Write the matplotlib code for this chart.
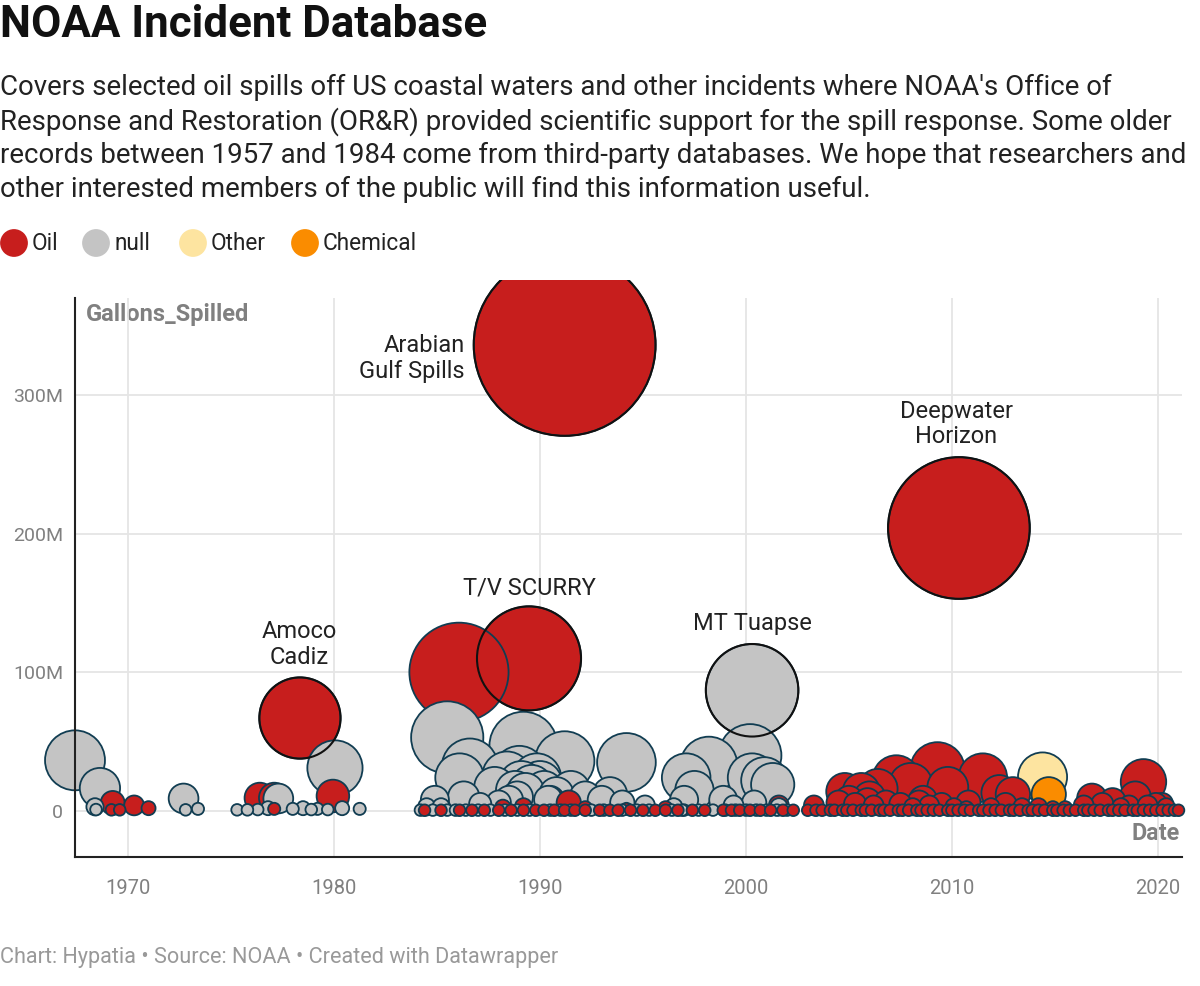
import numpy as np
import pandas as pd
import matplotlib
matplotlib.use("Agg")
import matplotlib.pyplot as plt
from matplotlib.patches import Rectangle

plt.rcParams["font.family"] = ["Roboto", "DejaVu Sans"]

# --- data (millions of gallons) ---
oil_year = [1969.26, 1969.2, 1969.6, 1970.3, 1971.0, 1976.4, 1977.1, 1977.1, 1978.35, 1979.95,
            1986.07, 1989.47, 1991.2, 2010.34,
            1988.2, 1989.2, 1990.5, 1991.4, 1992.2, 1996.1, 2001.6, 1994.2,
            2004.8, 2005.6, 2006.0, 2006.4, 2007.3, 2008.0, 2009.3, 2009.8, 2011.5, 2012.3,
            2012.96, 2016.8, 2017.8, 2018.9, 2019.3, 2020.2, 2008.6, 2010.8,
            2003.3, 2004.5, 2005.0, 2005.3, 2005.9, 2006.2, 2006.8, 2007.5, 2008.1, 2008.4,
            2008.9, 2009.5, 2010.1, 2010.7, 2011.9, 2012.6, 2013.4, 2014.2, 2014.9, 2015.5,
            2016.4, 2017.3, 2018.2, 2018.6, 2019.5, 2019.9, 2020.4]
oil_gal = [5.8, 0.8, 0.8, 4.0, 2.0, 9.4, 9.4, 1.5, 67.0, 10.8,
           100.0, 110.0, 336.0, 204.0,
           2.5, 3.0, 8.0, 6.0, 2.0, 2.0, 4.0, 1.5,
           14.0, 14.0, 10.0, 16.0, 23.0, 19.0, 30.0, 17.0, 24.0, 13.0,
           12.0, 9.0, 7.0, 10.0, 21.0, 5.0, 8.0, 6.0,
           4.0, 6.0, 8.0, 5.0, 7.0, 4.0, 6.0, 5.0, 3.0, 6.0,
           4.0, 5.0, 3.0, 2.0, 3.0, 5.0, 3.0, 3.0, 2.0, 2.0,
           4.0, 5.0, 3.0, 4.0, 4.0, 5.0, 3.0]

# tiny oil spills sitting on the zero line
oil_tiny_year = [1984.4, 1985.2, 1986.1, 1986.7, 1987.3, 1988.0, 1988.6, 1989.2, 1989.8, 1990.2,
                 1990.7, 1991.2, 1991.7, 1992.2, 1992.9, 1993.4, 1993.8, 1994.4, 1995.0, 1995.6,
                 1996.1, 1996.7, 1997.4, 1998.0, 1998.9, 1999.3, 1999.7, 2000.2, 2000.7, 2001.2,
                 2001.8, 2002.3,
                 2003.0, 2003.4, 2003.7, 2004.1, 2004.3, 2004.7, 2004.9, 2005.2, 2005.6, 2005.8,
                 2006.1, 2006.5, 2006.7, 2007.0, 2007.4, 2007.6, 2007.9, 2008.3, 2008.5, 2008.8,
                 2009.1, 2009.4, 2009.8, 2010.0, 2010.3, 2010.6, 2010.9, 2011.3, 2011.5, 2011.8,
                 2012.1, 2012.4, 2012.8, 2013.0, 2013.3, 2013.7, 2013.9, 2014.2, 2014.5, 2014.9,
                 2015.1, 2015.4, 2015.7, 2016.0, 2016.4, 2016.6, 2016.9, 2017.2, 2017.6, 2017.8,
                 2018.1, 2018.4, 2018.8, 2019.0, 2019.3, 2019.6, 2019.9, 2020.2, 2020.5, 2020.8,
                 2021.0]
oil_tiny_gal = [0.5] * len(oil_tiny_year)

null_year = [1967.43, 1968.64, 1968.4, 1968.45, 1972.7, 1972.8, 1973.4, 1975.3, 1975.8, 1976.3,
             1977.3, 1978.0, 1978.5, 1978.9, 1979.2, 1979.7, 1980.05, 1980.4, 1981.25, 1976.8,
             2000.3,
             1984.9, 1985.5, 1986.1, 1986.3, 1986.6, 1987.1, 1987.8, 1988.4, 1988.5, 1989.0,
             1989.2, 1989.3, 1989.85, 1990.2, 1990.8, 1991.2, 1991.5, 1992.2, 1993.0, 1993.4,
             1994.0, 1994.2, 1995.1, 1996.5, 1997.1, 1997.5, 1997.0, 1998.2, 1998.9, 2000.2,
             2000.3, 2000.4, 2000.9, 2001.3, 1999.4, 2001.6,
             1984.5, 1985.2, 1988.0, 1988.9, 1989.6, 1990.4, 1990.0, 1989.1, 1988.8]
null_gal = [36.5, 16.5, 3.0, 1.0, 9.0, 0.8, 1.5, 0.8, 0.8, 1.0,
            9.0, 1.5, 2.0, 1.0, 1.5, 1.0, 31.0, 2.0, 1.5, 2.0,
            87.0,
            8.0, 53.0, 24.0, 10.0, 32.0, 5.0, 17.0, 25.0, 8.0, 28.0,
            47.0, 14.0, 24.0, 15.0, 12.0, 36.0, 15.0, 10.0, 8.0, 12.0,
            6.0, 35.0, 4.0, 3.0, 24.0, 15.0, 8.0, 33.0, 8.0, 40.0,
            24.0, 6.0, 22.0, 19.0, 4.0, 3.0,
            3.0, 3.0, 6.0, 10.0, 18.0, 8.0, 20.0, 20.0, 15.0]

null_tiny_year = [1984.2, 1984.8, 1985.5, 1985.9, 1986.4, 1987.0, 1987.6, 1988.3, 1988.9, 1989.5,
                  1990.5, 1991.0, 1991.5, 1992.5, 1993.1, 1994.0, 1994.7, 1995.3, 1996.4, 1997.0,
                  1997.7, 1998.4, 1999.0, 1999.5, 2000.0, 2000.5, 2001.0, 2001.5, 2002.0, 1996.9]
null_tiny_gal = [0.6] * len(null_tiny_year)

other_year = [2014.4]
other_gal = [24.5]
chem_year = [2014.7]
chem_gal = [12.0]

# annotated incidents
label_names = ["Arabian\nGulf Spills", "Deepwater\nHorizon", "T/V SCURRY", "MT Tuapse", "Amoco\nCadiz"]
label_year = [1991.2, 2010.34, 1989.47, 2000.3, 1978.35]
label_gal = [336.0, 204.0, 110.0, 87.0, 67.0]
label_text_x = [1986.36, 2010.2, 1989.47, 2000.34, 1978.3]
label_text_y = [326, 279, 161, 135, 120]
label_ha = ["right", "center", "center", "center", "center"]

colors = {"Oil": "#c71e1d", "null": "#c4c4c4", "Other": "#fde4a0", "Chemical": "#fa8c00"}

df = pd.concat([
    pd.DataFrame({"year": oil_year + oil_tiny_year, "gal": oil_gal + oil_tiny_gal, "type": "Oil"}),
    pd.DataFrame({"year": null_year + null_tiny_year, "gal": null_gal + null_tiny_gal, "type": "null"}),
    pd.DataFrame({"year": other_year, "gal": other_gal, "type": "Other"}),
    pd.DataFrame({"year": chem_year, "gal": chem_gal, "type": "Chemical"}),
], ignore_index=True)
df = df.sort_values("gal", ascending=False, kind="stable")


def bubble_size(g):
    # area proportional to gallons, with a minimum dot size
    return np.maximum(51.0 * np.asarray(g, dtype=float), 70)


fig = plt.figure(figsize=(12, 9.86), dpi=100)
W, H = 1200, 986
ax = fig.add_axes([75 / W, (H - 857) / H, (1182 - 75) / W, (857 - 280) / H])
ax.set_xlim(1967.43, 2021.17)
ax.set_ylim(-33.2, 382.8)

# grid
grid_c = "#e5e5e5"
for yv in [0, 100, 200, 300]:
    ax.axhline(yv, color=grid_c, lw=1.3, zorder=0)
ax.vlines([1970, 1980, 1990, 2000, 2010, 2020], -33.2, 370, color=grid_c, lw=1.3, zorder=0)

# bubbles may spill past the left/right edges, but are cut at the top
clip = Rectangle((-0.05, -0.2), 1.1, 1.2, transform=ax.transAxes, visible=False)
ax.add_patch(clip)

sc = ax.scatter(df["year"], df["gal"], s=bubble_size(df["gal"]),
                c=df["type"].map(colors), edgecolors="#113d52", linewidths=1.3, zorder=2)
sc.set_clip_path(clip)
# black outlines for the labelled spills
ring = ax.scatter(label_year, label_gal, s=bubble_size(label_gal), facecolors="none",
                  edgecolors="#111111", linewidths=1.5, zorder=3)
ring.set_clip_path(clip)
for name, tx, ty, ha in zip(label_names, label_text_x, label_text_y, label_ha):
    ax.text(tx, ty, name, ha=ha, va="center", fontsize=17, color="#222222",
            linespacing=1.15, zorder=4)

for side in ["top", "right"]:
    ax.spines[side].set_visible(False)
ax.spines["left"].set_bounds(-33.2, 370)
ax.spines["left"].set_linewidth(1.5)
ax.spines["bottom"].set_linewidth(1.5)
ax.spines["left"].set_color("#222222")
ax.spines["bottom"].set_color("#222222")

ax.set_yticks([0, 100, 200, 300], ["0", "100M", "200M", "300M"])
ax.set_xticks([1970, 1980, 1990, 2000, 2010, 2020])
ax.tick_params(axis="y", length=0, pad=8.5, labelsize=14, labelcolor="#808080")
ax.tick_params(axis="x", length=0, pad=16, labelsize=14.5, labelcolor="#808080")
ax.patch.set_alpha(0)

# overlay in pixel coordinates for the header, legend and labels
ov = fig.add_axes([0, 0, 1, 1], zorder=-1)
ov.set_xlim(0, W)
ov.set_ylim(H, 0)
ov.axis("off")

ov.text(0, 25, "NOAA Incident Database", fontsize=31.6, fontweight="bold",
        color="#111111", va="center", ha="left")
subtitle = [
    "Covers selected oil spills off US coastal waters and other incidents where NOAA's Office of",
    "Response and Restoration (OR&R) provided scientific support for the spill response. Some older",
    "records between 1957 and 1984 come from third-party databases. We hope that researchers and",
    "other interested members of the public will find this information useful.",
]
for i, line in enumerate(subtitle):
    ov.text(0, 87 + i * 34.3, line, fontsize=19.9, color="#222222", va="center", ha="left")

leg_labels = ["Oil", "null", "Other", "Chemical"]
leg_x = [14, 96, 193, 305]
ov.scatter(leg_x, [243] * 4, s=400, c=[colors[k] for k in leg_labels], edgecolors="none")
for lx, lab in zip(leg_x, leg_labels):
    ov.text(lx + 18, 243, lab, fontsize=16.3, color="#222222", va="center", ha="left")

ov.text(86, 314, "Gallons_Spilled", fontsize=17, fontweight="bold", color="#808080",
        va="center", ha="left")
ov.text(1180, 833, "Date", fontsize=16.8, fontweight="bold", color="#808080",
        va="center", ha="right")
ov.text(0, 958, "Chart: Hypatia \u2022 Source: NOAA \u2022 Created with Datawrapper",
        fontsize=15.6, color="#999999", va="center", ha="left")

fig.savefig("out.png", dpi=100)
